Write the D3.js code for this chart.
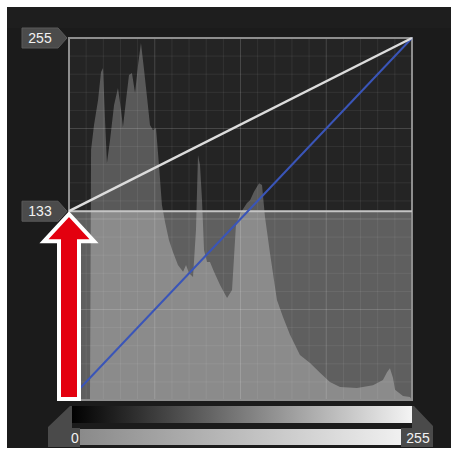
<!DOCTYPE html>
<html>
<head>
<meta charset="utf-8">
<script src="https://cdn.jsdelivr.net/npm/d3@7/dist/d3.min.js"></script>
<style>
  html, body { margin: 0; padding: 0; background: #ffffff; }
  svg { display: block; }
</style>
</head>
<body>
<svg width="451" height="452"></svg>
<script>
// histogram: input level (0-255) and height in % of the plot
const histLevels = [15.6, 16.4, 18.6, 21.6, 23.8, 25.3, 26.8, 28.2, 30.5, 33.5, 36.4, 38.7, 40.1, 42.4, 44.6, 46.8, 49.1, 51.3, 53.5, 55.8, 58.0, 60.2, 62.4, 64.7, 66.9, 69.1, 71.4, 74.3, 77.3, 81.0, 84.8, 87.0, 89.2, 92.2, 94.4, 95.9, 97.4, 98.9, 100.4, 102.6, 104.8, 107.8, 112.3, 117.5, 121.2, 124.1, 127.9, 132.3, 134.6, 137.5, 141.3, 143.5, 145.7, 149.4, 154.6, 159.1, 164.3, 171.7, 179.2, 186.6, 194.0, 201.5, 214.1, 226.0, 233.4, 236.4, 238.6, 240.9, 242.4, 248.3, 253.5, 255];
const histValues = [0, 69.1, 76.0, 82.9, 90.6, 91.7, 77.3, 65.5, 71.8, 81.5, 86.2, 80.1, 75.4, 82.9, 89.8, 90.3, 84.8, 92.5, 98.6, 91.2, 83.7, 76.0, 74.6, 75.1, 64.9, 53.9, 49.2, 44.2, 40.9, 37.3, 35.4, 37.3, 35.1, 34.0, 47.0, 67.7, 64.9, 55.2, 41.4, 38.1, 38.1, 35.4, 31.8, 28.2, 30.4, 48.3, 51.9, 54.4, 55.2, 57.5, 59.9, 59.4, 50.6, 40.6, 27.6, 22.9, 18.0, 12.4, 10.2, 7.5, 5.0, 3.6, 3.3, 4.1, 5.5, 7.7, 8.8, 6.1, 2.8, 1.1, 0.8, 0];

// curve control points (input -> output) and the identity line
const curveIn = [0, 255];
const curveOut = [133, 255];
const identityIn = [0, 255];
const identityOut = [0, 255];

// labels
const outputLabels = ["255", "133"];
const inputLabels = ["0", "255"];

let svg = d3.select("svg"),
  plot = { left: 69, right: 412, top: 38, bottom: 400 };

let x = d3.scaleLinear().domain([0, 255]).range([plot.left, plot.right]),
  y = d3.scaleLinear().domain([0, 255]).range([plot.bottom, plot.top]),
  yHist = d3.scaleLinear().domain([0, 100]).range([plot.bottom, plot.top]);

let splitY = y(curveOut[0]);

// dark panel
svg.append("rect")
  .attr("x", 7).attr("y", 7)
  .attr("width", 444).attr("height", 441)
  .attr("fill", "#1b1b1b");
svg.append("rect")
  .attr("x", 7).attr("y", 7)
  .attr("width", 444).attr("height", 21)
  .attr("fill", "#1e1e1e");

let defs = svg.append("defs");
defs.append("clipPath").attr("id", "upper")
  .append("rect")
  .attr("x", plot.left).attr("y", plot.top)
  .attr("width", plot.right - plot.left).attr("height", splitY - plot.top);
defs.append("clipPath").attr("id", "lower")
  .append("rect")
  .attr("x", plot.left).attr("y", splitY)
  .attr("width", plot.right - plot.left).attr("height", plot.bottom - splitY);

let hist = histLevels.map(function (d, i) {
  return { level: d, value: histValues[i] };
});
let area = d3.area()
  .x(function (d) { return x(d.level); })
  .y0(plot.bottom)
  .y1(function (d) { return yHist(d.value); });

// upper part (clipped output range) and lower part
let tones = [
  { clip: "upper", bg: "#242424", fg: "#595959" },
  { clip: "lower", bg: "#5f5f5f", fg: "#8b8b8b" }
];
tones.forEach(function (t) {
  let g = svg.append("g").attr("clip-path", "url(#" + t.clip + ")");
  g.append("rect")
    .attr("x", plot.left).attr("y", plot.top)
    .attr("width", plot.right - plot.left).attr("height", plot.bottom - plot.top)
    .attr("fill", t.bg);
  g.append("path")
    .datum(hist)
    .attr("d", area)
    .attr("fill", t.fg);
});

// grid: 4 major and 20 minor divisions
let grid = svg.append("g");
d3.range(1, 20).forEach(function (i) {
  let v = i * 255 / 20,
    major = i % 5 === 0;
  grid.append("line")
    .attr("x1", x(v)).attr("x2", x(v))
    .attr("y1", plot.top).attr("y2", plot.bottom)
    .attr("stroke", "#ffffff")
    .attr("stroke-opacity", major ? 0.16 : 0.07);
  grid.append("line")
    .attr("x1", plot.left).attr("x2", plot.right)
    .attr("y1", y(v)).attr("y2", y(v))
    .attr("stroke", "#ffffff")
    .attr("stroke-opacity", major ? 0.16 : 0.07);
});

// plot frame
svg.append("rect")
  .attr("x", plot.left).attr("y", plot.top)
  .attr("width", plot.right - plot.left).attr("height", plot.bottom - plot.top)
  .attr("fill", "none")
  .attr("stroke", "#8e8e8e")
  .attr("stroke-width", 2);

// output clip line
svg.append("line")
  .attr("x1", plot.left).attr("x2", plot.right)
  .attr("y1", splitY).attr("y2", splitY)
  .attr("stroke", "#c4c4c4")
  .attr("stroke-width", 2);

let line = d3.line()
  .x(function (d) { return x(d[0]); })
  .y(function (d) { return y(d[1]); });

// identity (blue) and curve (white)
svg.append("path")
  .datum(d3.zip(identityIn, identityOut))
  .attr("d", line)
  .attr("fill", "none")
  .attr("stroke", "#3a55b8")
  .attr("stroke-width", 2);
svg.append("path")
  .datum(d3.zip(curveIn, curveOut))
  .attr("d", line)
  .attr("fill", "none")
  .attr("stroke", "#dcdcdc")
  .attr("stroke-width", 2.5);

// output tags on the left
outputLabels.forEach(function (lab) {
  let cy = y(+lab);
  let g = svg.append("g");
  g.append("path")
    .attr("d", "M22," + (cy - 10) + " H58 L67," + cy + " L58," + (cy + 10) + " H22 Z")
    .attr("fill", "#4b4b4b")
    .attr("stroke", "#5a5a5a")
    .attr("stroke-width", 1);
  g.append("text")
    .attr("x", 40).attr("y", cy + 5)
    .attr("text-anchor", "middle")
    .attr("font-family", "Liberation Sans, Arial, sans-serif")
    .attr("font-size", 14)
    .attr("fill", "#f2f2f2")
    .text(lab);
});

// input gradient bars
let gradTop = defs.append("linearGradient").attr("id", "gradTop");
gradTop.append("stop").attr("offset", "0%").attr("stop-color", "#000000");
gradTop.append("stop").attr("offset", "100%").attr("stop-color", "#f4f4f4");
let gradBot = defs.append("linearGradient").attr("id", "gradBot");
gradBot.append("stop").attr("offset", "0%").attr("stop-color", "#8a8a8a");
gradBot.append("stop").attr("offset", "100%").attr("stop-color", "#f0f0f0");

svg.append("rect")
  .attr("x", x(0) + 1).attr("y", 406)
  .attr("width", x(255) - x(0) - 1).attr("height", 17)
  .attr("fill", "url(#gradTop)");

// input tabs
svg.append("path")
  .attr("d", "M48,427 L70,406 L72,406 L72,428 L80,428 L80,447 L48,447 Z")
  .attr("fill", "#4a4a4a");
svg.append("path")
  .attr("d", "M412,406 L414,406 L433,426 L433,447 L401,447 L401,428 L412,428 Z")
  .attr("fill", "#4a4a4a");

svg.append("rect")
  .attr("x", 80).attr("y", 429)
  .attr("width", 321).attr("height", 16)
  .attr("fill", "url(#gradBot)");

svg.selectAll(".inlab")
  .data(inputLabels)
  .enter()
  .append("text")
  .attr("class", "inlab")
  .attr("x", function (d, i) { return i === 0 ? 75 : 418; })
  .attr("y", 443)
  .attr("text-anchor", "middle")
  .attr("font-family", "Liberation Sans, Arial, sans-serif")
  .attr("font-size", 14)
  .attr("fill", "#f2f2f2")
  .text(function (d) { return d; });

// red arrow pointing at the raised black point
let tipX = x(curveIn[0]), tipY = splitY;
svg.append("path")
  .attr("d", "M" + tipX + "," + (tipY + 3) +
    " L" + (tipX + 25) + "," + (tipY + 30) +
    " L" + (tipX + 10) + "," + (tipY + 30) +
    " L" + (tipX + 10) + "," + (plot.bottom - 1) +
    " L" + (tipX - 10) + "," + (plot.bottom - 1) +
    " L" + (tipX - 10) + "," + (tipY + 30) +
    " L" + (tipX - 25) + "," + (tipY + 30) + " Z")
  .attr("fill", "#e3000f")
  .attr("stroke", "#ffffff")
  .attr("stroke-width", 4)
  .attr("stroke-linejoin", "miter");
</script>
</body>
</html>
